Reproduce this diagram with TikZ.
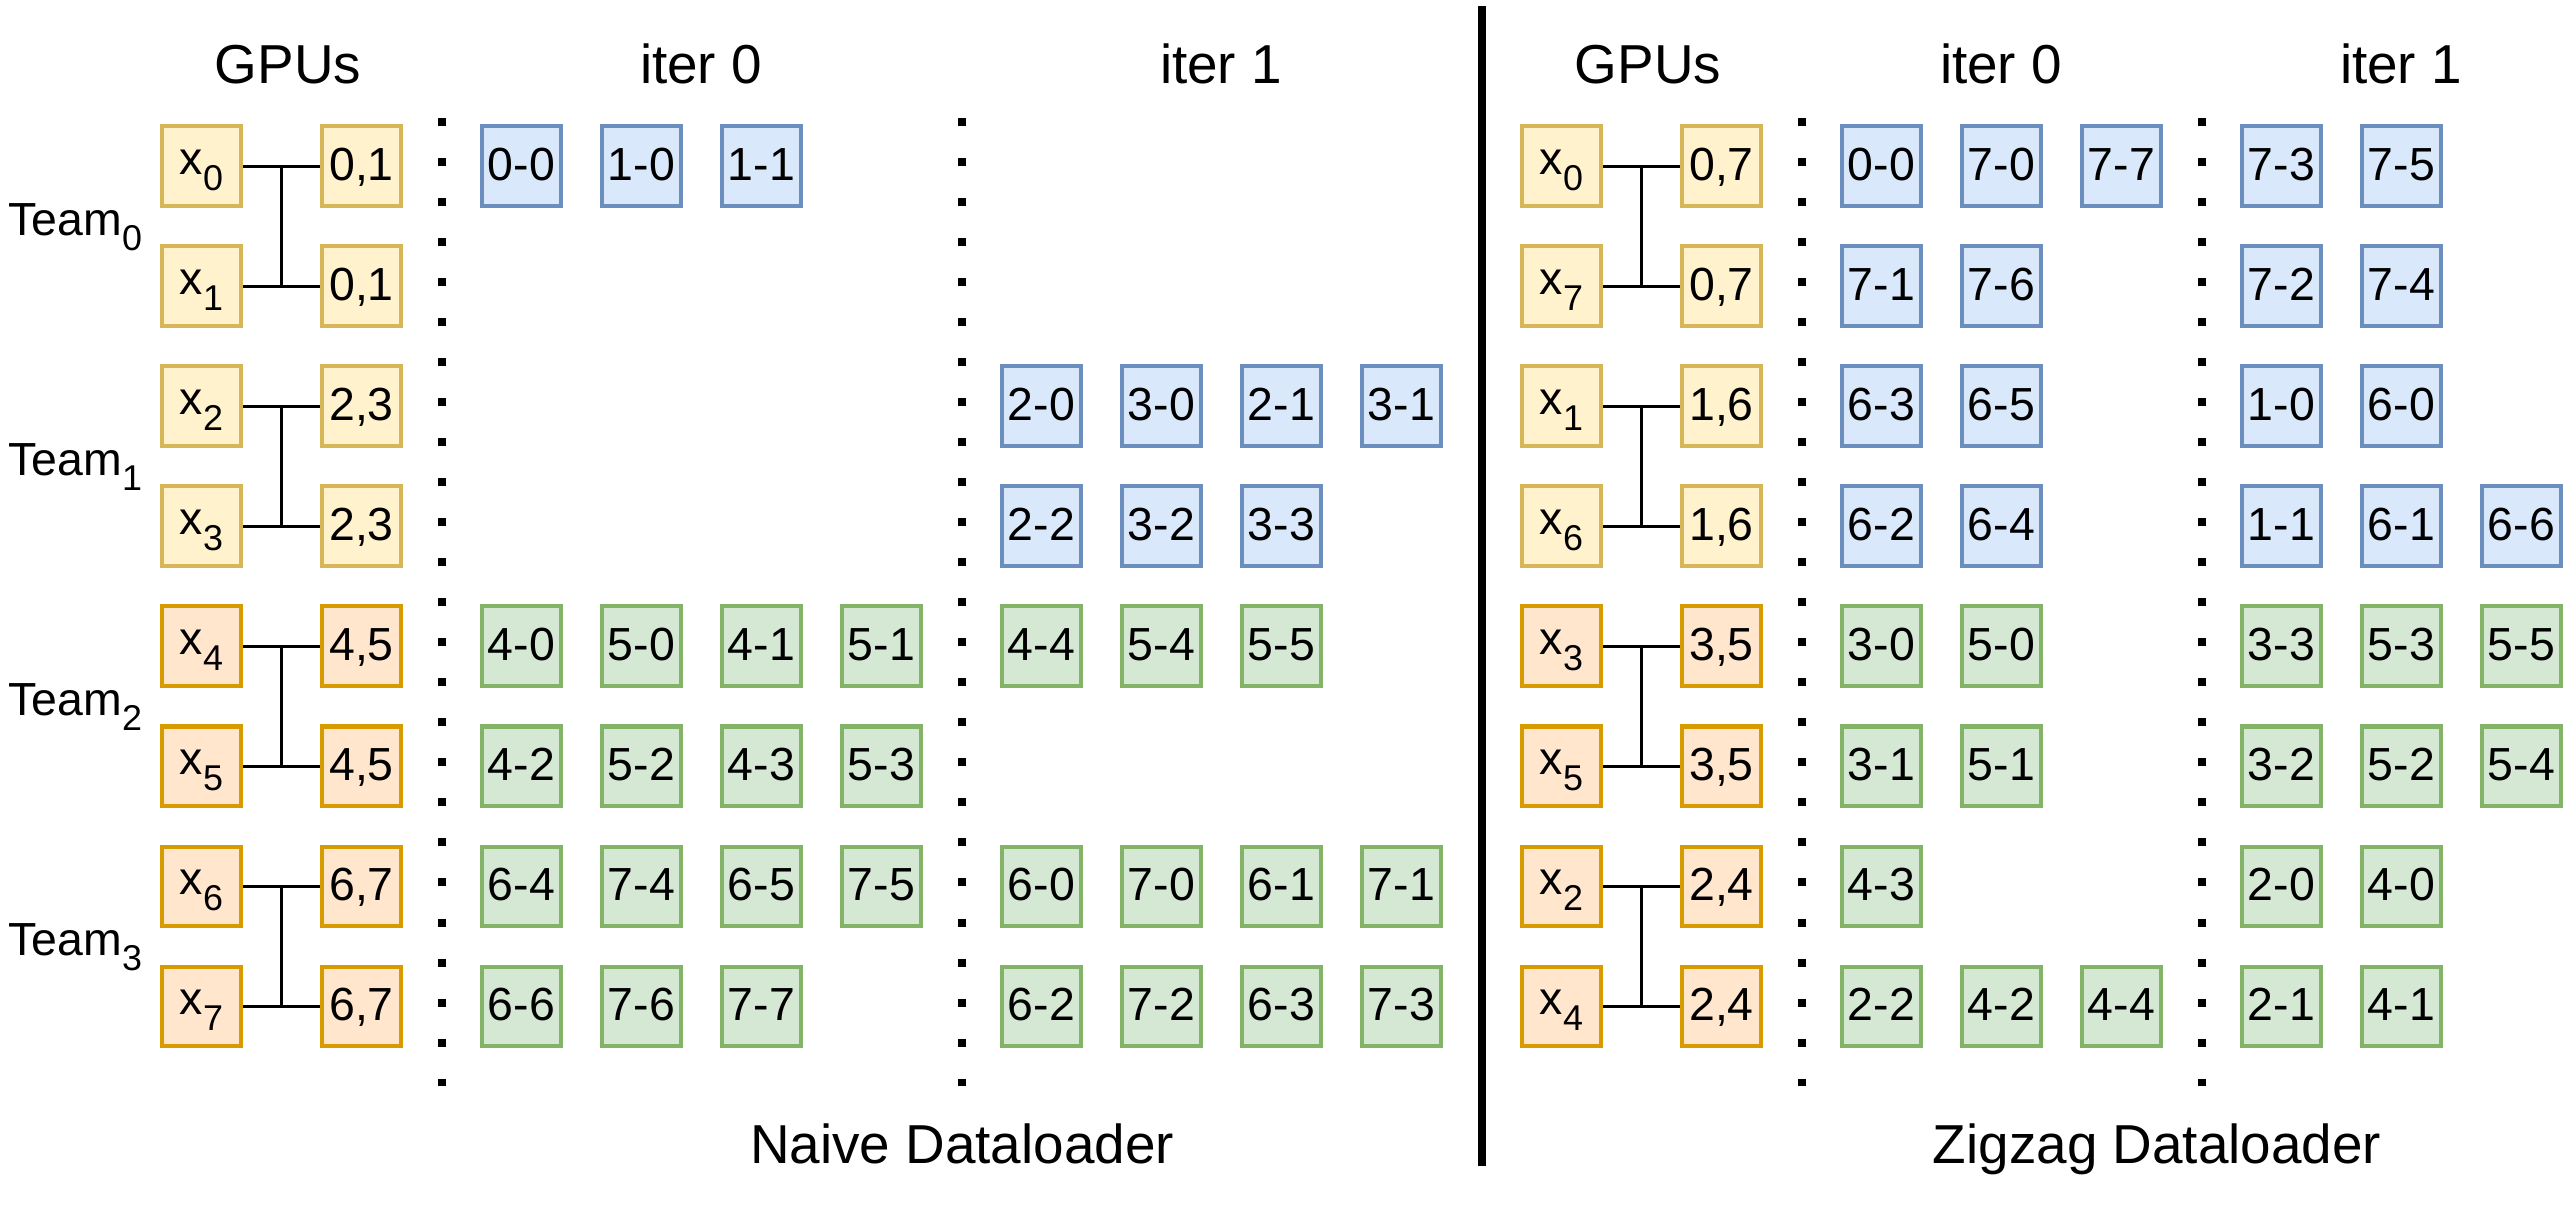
\documentclass[tikz,border=0pt]{standalone}
\usepackage{fontspec}
\setmainfont{Liberation Sans}
\usetikzlibrary{calc}
\definecolor{ylwF}{HTML}{FFF2CC}
\definecolor{ylwD}{HTML}{D6B656}
\definecolor{orgF}{HTML}{FFE6CC}
\definecolor{orgD}{HTML}{D79B00}
\definecolor{bluF}{HTML}{DAE8FC}
\definecolor{bluD}{HTML}{6C8EBF}
\definecolor{grnF}{HTML}{D5E8D4}
\definecolor{grnD}{HTML}{82B366}
\newcommand{\subx}[1]{\raisebox{-4.3pt}{\fontsize{10.2pt}{12pt}\selectfont #1}}
% #1 prefix, #2 row, #3 x of first centre, #4 style, #5 labels
\newcommand{\boxrow}[5]{%
  \foreach \t [count=\j from 0] in {#5} {%
    \node[#4] (#1-#2-\j) at ({#3+120*\j},{166+120*#2}) {\t};}}
\begin{document}
\begin{tikzpicture}[x=0.01cm,y=-0.01cm,
  cell/.style={draw, line width=0.04cm, minimum width=0.79cm, minimum height=0.79cm,
    inner sep=0pt, font=\fontsize{13.2pt}{15pt}\selectfont, text height=9pt, text depth=1pt},
  bcell/.style={cell, draw=bluD, fill=bluF},
  gcell/.style={cell, draw=grnD, fill=grnF},
  ycell/.style={cell, draw=ylwD, fill=ylwF},
  ocell/.style={cell, draw=orgD, fill=orgF},
  gpu/.style={text height=6.1pt, text depth=1pt},
  conn/.style={draw=black, line width=0.03cm},
  sep/.style={draw=black, line width=0.08cm},
  dotcol/.style={draw=black, line width=0.08cm, dash pattern=on 0.08cm off 0.32cm},
  head/.style={anchor=base, font=\fontsize{15.6pt}{18pt}\selectfont, inner sep=0pt},
  team/.style={anchor=base west, font=\fontsize{13.2pt}{15pt}\selectfont, inner sep=0pt}
]
\useasboundingbox (0,0) rectangle (2564,1208);

% ---------- Naive side: GPUs ----------
\foreach \k/\lab/\pr in {0/0/{0,1},1/1/{0,1},2/2/{2,3},3/3/{2,3},4/4/{4,5},5/5/{4,5},6/6/{6,7},7/7/{6,7}} {
  \ifnum\k<4
    \node[ycell,gpu] (gL\k) at (201.5,{166+120*\k}) {x\subx{\lab}};
    \node[ycell] (pL\k) at (361.5,{166+120*\k}) {\pr};
  \else
    \node[ocell,gpu] (gL\k) at (201.5,{166+120*\k}) {x\subx{\lab}};
    \node[ocell] (pL\k) at (361.5,{166+120*\k}) {\pr};
  \fi
}
% ---------- Zigzag side: GPUs ----------
\foreach \k/\lab/\pr in {0/0/{0,7},1/7/{0,7},2/1/{1,6},3/6/{1,6},4/3/{3,5},5/5/{3,5},6/2/{2,4},7/4/{2,4}} {
  \ifnum\k<4
    \node[ycell,gpu] (gR\k) at (1561.5,{166+120*\k}) {x\subx{\lab}};
    \node[ycell] (pR\k) at (1721.5,{166+120*\k}) {\pr};
  \else
    \node[ocell,gpu] (gR\k) at (1561.5,{166+120*\k}) {x\subx{\lab}};
    \node[ocell] (pR\k) at (1721.5,{166+120*\k}) {\pr};
  \fi
}
% connectors
\foreach \s in {L,R} {
  \foreach \k in {0,...,7} { \draw[conn] (g\s\k.east) -- (p\s\k.west); }
  \foreach \k [evaluate=\k as \kk using int(\k+1)] in {0,2,4,6} {
    \draw[conn] ($(g\s\k.east)!0.5!(p\s\k.west)$) -- ($(g\s\kk.east)!0.5!(p\s\kk.west)$);
  }
}

% team labels
\foreach \k in {0,1,2,3} {
  \node[team] (team\k) at (8,{235+240*\k}) {Team\subx{\k}};
}

% ---------- Naive iter 0 ----------
\boxrow{ni0}{0}{521.5}{bcell}{0-0,1-0,1-1}
\boxrow{ni0}{4}{521.5}{gcell}{4-0,5-0,4-1,5-1}
\boxrow{ni0}{5}{521.5}{gcell}{4-2,5-2,4-3,5-3}
\boxrow{ni0}{6}{521.5}{gcell}{6-4,7-4,6-5,7-5}
\boxrow{ni0}{7}{521.5}{gcell}{6-6,7-6,7-7}
% ---------- Naive iter 1 ----------
\boxrow{ni1}{2}{1041.5}{bcell}{2-0,3-0,2-1,3-1}
\boxrow{ni1}{3}{1041.5}{bcell}{2-2,3-2,3-3}
\boxrow{ni1}{4}{1041.5}{gcell}{4-4,5-4,5-5}
\boxrow{ni1}{6}{1041.5}{gcell}{6-0,7-0,6-1,7-1}
\boxrow{ni1}{7}{1041.5}{gcell}{6-2,7-2,6-3,7-3}
% ---------- Zigzag iter 0 ----------
\boxrow{zi0}{0}{1881.5}{bcell}{0-0,7-0,7-7}
\boxrow{zi0}{1}{1881.5}{bcell}{7-1,7-6}
\boxrow{zi0}{2}{1881.5}{bcell}{6-3,6-5}
\boxrow{zi0}{3}{1881.5}{bcell}{6-2,6-4}
\boxrow{zi0}{4}{1881.5}{gcell}{3-0,5-0}
\boxrow{zi0}{5}{1881.5}{gcell}{3-1,5-1}
\boxrow{zi0}{6}{1881.5}{gcell}{4-3}
\boxrow{zi0}{7}{1881.5}{gcell}{2-2,4-2,4-4}
% ---------- Zigzag iter 1 ----------
\boxrow{zi1}{0}{2281.5}{bcell}{7-3,7-5}
\boxrow{zi1}{1}{2281.5}{bcell}{7-2,7-4}
\boxrow{zi1}{2}{2281.5}{bcell}{1-0,6-0}
\boxrow{zi1}{3}{2281.5}{bcell}{1-1,6-1,6-6}
\boxrow{zi1}{4}{2281.5}{gcell}{3-3,5-3,5-5}
\boxrow{zi1}{5}{2281.5}{gcell}{3-2,5-2,5-4}
\boxrow{zi1}{6}{2281.5}{gcell}{2-0,4-0}
\boxrow{zi1}{7}{2281.5}{gcell}{2-1,4-1}

% dotted separators
\foreach \xx [count=\i] in {442,962,1802,2202} {
  \coordinate (dt\i) at (\xx,118);
  \coordinate (db\i) at (\xx,1086);
  \draw[dotcol] (dt\i) -- (db\i);
}
% central separator
\coordinate (sepT) at (1482,6);
\coordinate (sepB) at (1482,1166);
\draw[sep] (sepT) -- (sepB);

% headers
\node[head] (hg1) at (288,83) {GPUs};
\node[head] (hi10) at (701,83) {iter 0};
\node[head] (hi11) at (1221,83) {iter 1};
\node[head] (hg2) at (1648,83) {GPUs};
\node[head] (hi20) at (2001,83) {iter 0};
\node[head] (hi21) at (2401,83) {iter 1};
\node[head] (capN) at (962,1163) {Naive Dataloader};
\node[head] (capZ) at (2157,1163) {Zigzag Dataloader};
\end{tikzpicture}
\end{document}
